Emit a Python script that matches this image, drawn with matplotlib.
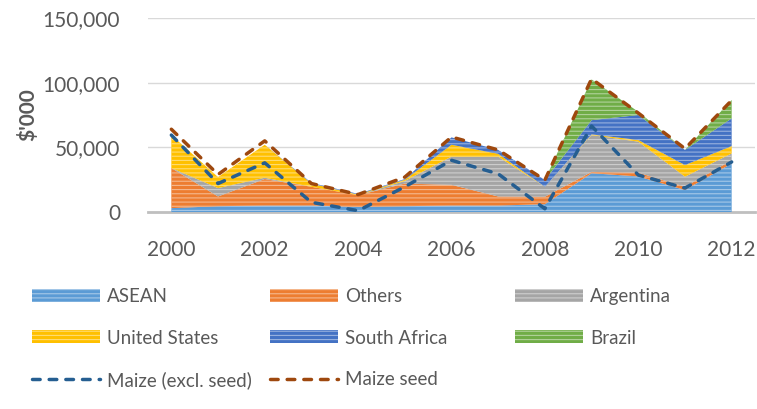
import numpy as np
import matplotlib
matplotlib.use("Agg")
import matplotlib.pyplot as plt
from matplotlib.patches import Patch
from matplotlib.lines import Line2D
from matplotlib.colors import to_rgb

# ---- data (values in $'000) ----
years = list(range(2000, 2013))
asean = [3000, 4500, 5000, 5000, 4000, 4500, 5000, 5000, 6000, 30000, 27500, 17000, 37500]
others = [31000, 7500, 20500, 14500, 9000, 17500, 16000, 7000, 5800, 1000, 2900, 2500, 2500]
argentina = [0, 6500, 1000, 0, 0, 2000, 21800, 30800, 7700, 28500, 24000, 7800, 5300]
united_states = [25500, 8500, 25500, 2500, 500, 1000, 9200, 2200, 0, 500, 1300, 9000, 5700]
south_africa = [0, 0, 0, 500, 500, 500, 5700, 3000, 5200, 11000, 19300, 11700, 21400]
brazil = [0, 0, 0, 0, 0, 0, 0, 0, 0, 31500, 2500, 0, 14200]
maize_excl_seed = [59500, 22000, 38000, 7500, 1000, 19500, 40000, 29500, 2500, 66500, 28600, 18500, 38700]
maize_seed = [64000, 29000, 55000, 22000, 13500, 27000, 58000, 48000, 24700, 103000, 76500, 49000, 86300]

series_names = ["ASEAN", "Others", "Argentina", "United States", "South Africa", "Brazil"]
series_vals = [asean, others, argentina, united_states, south_africa, brazil]
series_colors = ["#5B9BD5", "#ED7D31", "#A5A5A5", "#FFC000", "#4472C4", "#70AD47"]
line_names = ["Maize (excl. seed)", "Maize seed"]
line_vals = [maize_excl_seed, maize_seed]
line_colors = ["#255E91", "#9E480E"]

FONT = "Lato"
TXT = "#595959"
HATCH = "----"   # ~24 stripes per inch -> Excel-like horizontal stripe pattern
DASH = (2.2, 2.6)


def lighten(c, f=0.45):
    r, g, b = to_rgb(c)
    return (r + (1 - r) * f, g + (1 - g) * f, b + (1 - b) * f)


plt.rcParams["font.family"] = [FONT, "DejaVu Sans"]
plt.rcParams["hatch.linewidth"] = 0.8

fig = plt.figure(figsize=(7.57, 4.09), dpi=100)
ax = fig.add_axes([148 / 757, 197 / 409, 607 / 757, 194 / 409])

x = np.arange(len(years))
base = np.zeros(len(years))
for name, vals, col in zip(series_names, series_vals, series_colors):
    top = base + np.array(vals)
    ax.fill_between(x, base, top, facecolor=col, edgecolor=lighten(col),
                    hatch=HATCH, linewidth=0, zorder=2)
    base = top

for name, vals, col in zip(line_names, line_vals, line_colors):
    ax.plot(x, vals, color=col, linewidth=2.5, dashes=DASH,
            dash_capstyle="round", zorder=3)

ax.set_xlim(-0.5, len(years) - 0.5)
ax.set_ylim(0, 150000)
ax.set_yticks([0, 50000, 100000, 150000])
ax.set_yticklabels([f"{v:,}" for v in [0, 50000, 100000, 150000]])
ax.set_xticks(x[::2])
ax.set_xticklabels([str(y) for y in years[::2]])
ax.tick_params(axis="both", length=0, labelsize=15, labelcolor=TXT)
ax.tick_params(axis="y", pad=20)
ax.tick_params(axis="x", pad=20)
ax.grid(axis="y", color="#D9D9D9", linewidth=1.0, zorder=0)
ax.set_axisbelow(True)
for s in ["top", "right", "left"]:
    ax.spines[s].set_visible(False)
ax.spines["bottom"].set_color("#BFBFBF")
ax.spines["bottom"].set_linewidth(2.0)
ax.spines["bottom"].set_zorder(1)

ax.set_ylabel("$'000", fontsize=15, fontweight="bold", color=TXT)
ax.yaxis.set_label_coords(-(148 - 38) / 607, 0.5)

# legend: three columns placed like Excel's equal-width legend
patches = [Patch(facecolor=c, edgecolor=lighten(c), hatch="----", linewidth=0)
           for c in series_colors]
lines = [Line2D([], [], color=c, linewidth=2.5, dashes=DASH, dash_capstyle="round")
         for c in line_colors]
columns = [
    ([patches[0], patches[3], lines[0]], [series_names[0], series_names[3], line_names[0]]),
    ([patches[1], patches[4], lines[1]], [series_names[1], series_names[4], line_names[1]]),
    ([patches[2], patches[5]], [series_names[2], series_names[5]]),
]
col_x = [32, 270, 515]
for (h, l), cx in zip(columns, col_x):
    leg = fig.legend(h, l, loc="upper left", bbox_to_anchor=(cx / 757, 1 - 288 / 409),
                     frameon=False, fontsize=13.5, borderpad=0, borderaxespad=0,
                     handlelength=3.63, handleheight=0.69, handletextpad=0.37,
                     labelspacing=1.31)
    for t in leg.get_texts():
        t.set_color(TXT)

fig.savefig("out.png", dpi=100)
